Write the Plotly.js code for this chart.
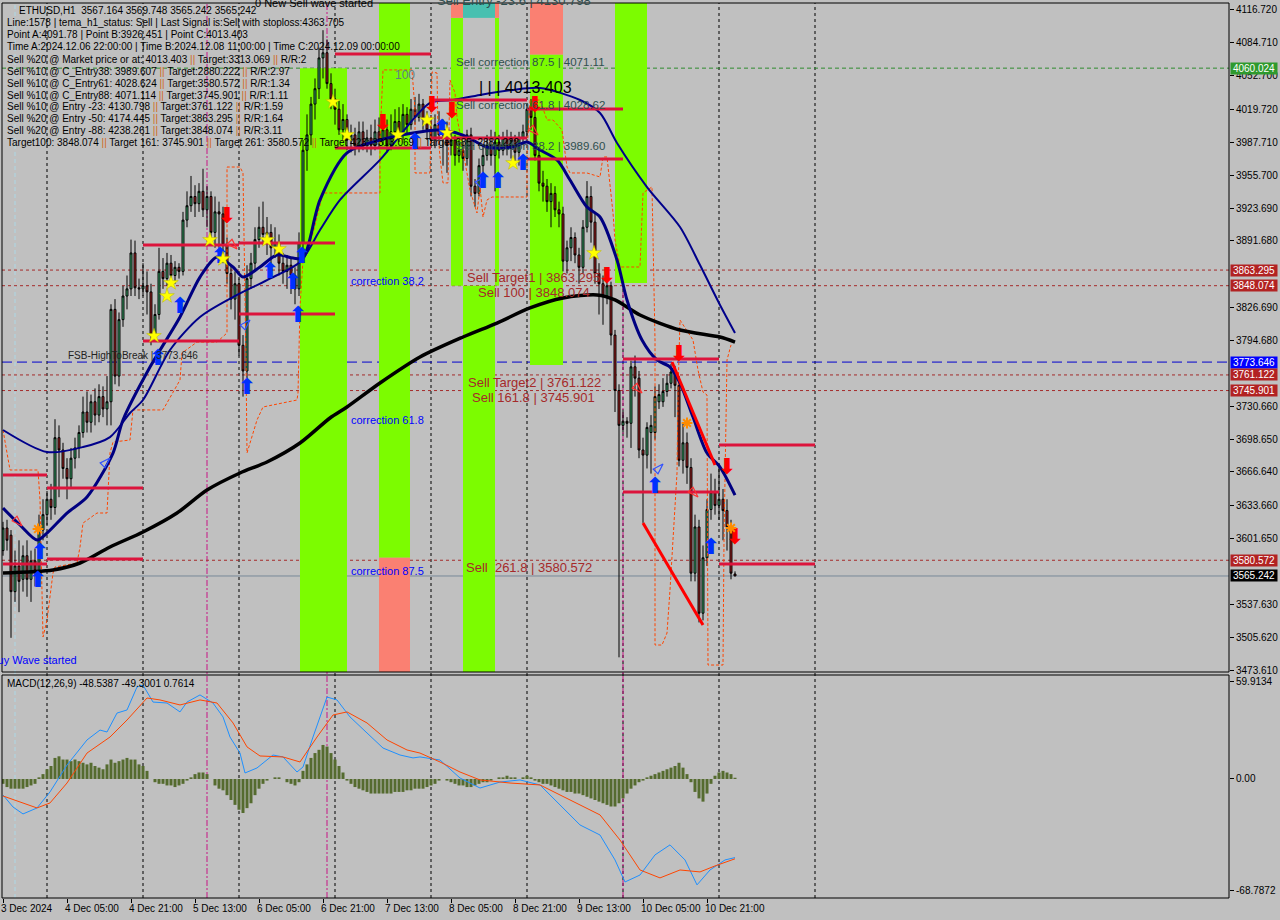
<!DOCTYPE html>
<html><head><meta charset="utf-8">
<script src="https://cdn.plot.ly/plotly-3.0.1.min.js"></script>
<style>html,body{margin:0;padding:0;background:#c0c0c0;overflow:hidden}#chart{width:1280px;height:920px}</style>
</head><body><div id="chart"></div>
<script>
// ---------------- DATA ----------------
const candleOpen = [3590,3612,3605,3550,3575,3562,3585,3562,3580,3570,
3610,3625,3640,3632,3700,3688,3670,3660,3680,3690,
3705,3725,3715,3735,3722,3740,3728,3735,3825,3760,
3815,3838,3845,3880,3846,3845,3848,3842,3800,3820,
3862,3855,3870,3858,3866,3862,3912,3926,3935,3928,
3940,3922,3935,3900,3920,3918,3888,3860,3835,3850,
3790,3765,3855,3870,3893,3905,3898,3900,3885,3890,
3870,3862,3868,3858,3845,3890,3980,3995,4025,4040,
4070,4075,4045,4030,4020,4000,4010,3990,3995,3985,
3998,3985,3992,3985,3998,3990,4000,3985,3998,4008,
3995,4015,4005,4020,4012,4025,4010,4000,3990,4005,
3995,4000,3985,3990,3975,3980,3972,3995,3945,3938,
3965,3975,3985,3975,3988,3980,3992,3982,3990,3978,
3992,3998,4020,4012,3975,3948,3945,3930,3938,3922,
3918,3872,3885,3895,3878,3866,3905,3935,3910,3860,
3850,3838,3848,3800,3746,3712,3716,3714,3769,3758,
3688,3683,3705,3705,3735,3735,3745,3753,3764,3751,
3678,3695,3671,3568,3613,3529,3583,3630,3647,3634,
3640,3629,3613,3567.164];
const candleHigh = [3618,3620,3610,3590,3600,3595,3600,3590,3592,3625,
3640,3648,3655,3718,3712,3695,3680,3690,3700,3712,
3740,3745,3742,3748,3752,3750,3760,3830,3835,3822,
3848,3858,3893,3892,3855,3870,3862,3850,3830,3885,
3875,3880,3878,3872,3870,3920,3940,3955,3946,3948,
3962,3945,3940,3935,3930,3925,3895,3868,3862,3855,
3800,3868,3880,3905,3925,3930,3915,3908,3905,3898,
3880,3878,3875,3866,3900,3990,4015,4032,4050,4080,
4097,4088,4055,4040,4028,4025,4015,4005,4002,4008,
4008,4000,4005,4010,4012,4008,4010,4015,4020,4022,
4025,4022,4030,4032,4035,4030,4018,4012,4015,4018,
4010,4008,3998,3995,3990,3988,4000,4002,3952,3972,
3985,3995,4000,3998,3995,3998,4000,3998,3995,3998,
4005,4025,4030,4018,3980,3960,3952,3948,3945,3930,
3925,3892,3905,3900,3885,3912,3950,3945,3920,3870,
3858,3855,3852,3805,3752,3725,3720,3775,3780,3765,
3700,3715,3722,3750,3752,3758,3762,3772,3770,3760,
3715,3705,3680,3625,3620,3595,3640,3665,3660,3672,
3650,3640,3620,3569.748];
const candleLow = [3585,3590,3505,3540,3530,3550,3545,3540,3555,3560,
3600,3615,3620,3625,3642,3660,3640,3652,3670,3680,
3700,3705,3705,3712,3715,3720,3712,3712,3752,3750,
3808,3825,3838,3838,3835,3838,3820,3790,3795,3815,
3845,3848,3850,3850,3855,3858,3905,3920,3915,3920,
3915,3905,3890,3885,3875,3870,3850,3825,3815,3780,
3740,3758,3845,3862,3885,3888,3878,3870,3875,3858,
3850,3845,3840,3830,3838,3885,3960,3985,4010,4030,
4050,4040,4020,4005,3995,3990,3980,3978,3975,3978,
3980,3978,3975,3980,3982,3985,3978,3980,3990,3988,
3990,3995,4000,4005,4008,4000,3990,3985,3982,3985,
3965,3958,3975,3965,3968,3960,3965,3935,3925,3935,
3955,3970,3965,3940,3972,3975,3975,3972,3965,3965,
3985,3992,4000,3970,3940,3930,3920,3905,3915,3905,
3862,3860,3872,3870,3850,3860,3900,3890,3850,3820,
3810,3830,3790,3725,3486,3705,3700,3690,3740,3680,
3617,3670,3665,3698,3728,3730,3740,3748,3720,3672,
3665,3655,3560,3560,3520,3522,3575,3620,3625,3620,
3600,3590,3562,3565.242];
const candleClose = [3612,3600,3550,3575,3560,3585,3562,3580,3570,3610,
3625,3640,3632,3700,3688,3670,3660,3680,3690,3705,
3725,3715,3735,3722,3740,3728,3735,3825,3760,3815,
3838,3845,3880,3846,3845,3848,3842,3800,3820,3862,
3855,3870,3858,3866,3862,3912,3926,3935,3928,3940,
3922,3935,3900,3920,3918,3888,3860,3835,3850,3790,
3765,3855,3870,3893,3905,3898,3900,3885,3890,3870,
3862,3868,3858,3845,3890,3980,3995,4025,4040,4070,
4075,4045,4030,4020,4000,4010,3990,3995,3985,3998,
3985,3992,3985,3998,3990,4000,3985,3998,4008,3995,
4015,4005,4020,4012,4025,4010,4000,3990,4005,3995,
4000,3985,3990,3975,3980,3972,3995,3945,3938,3965,
3975,3985,3975,3988,3980,3992,3982,3990,3978,3992,
3998,4020,4012,3975,3948,3945,3930,3938,3922,3918,
3872,3885,3895,3878,3866,3905,3935,3910,3860,3850,
3838,3848,3800,3746,3712,3716,3714,3769,3758,3688,
3683,3710,3712,3740,3742,3745,3753,3764,3751,3678,
3695,3671,3568,3613,3529,3583,3630,3647,3634,3640,
3629,3613,3568,3565.242];

// moving averages (bar index, price)
const fastMaIdx = [0,4.25,8.5,11,16,21,27.5,30,36.75,44.25,49.25,53.5,57.5,60,64.25,68.5,72.5,75,79.25,86,94.25,102.5,108.5,112.5,116,121,127.5,131,134.25,138.5,141.75,146,149.25,153.5,156,159.75,163.5,166.75,169.25,172.5,176,179.25,183];
const fastMaVal = [3631.4,3614.9,3600.3,3607.1,3626.6,3642.2,3685.0,3717.2,3768.8,3817.6,3856.5,3876.0,3866.3,3856.5,3866.3,3878.0,3875.0,3875.0,3931.6,3977.4,3990.0,3996.8,3999.8,3997.8,3993.0,3983.2,3983.2,3988.1,3980.3,3970.6,3951.1,3924.7,3915.0,3873.1,3834.1,3795.1,3775.7,3768.8,3753.2,3720.1,3685.0,3671.4,3644.1];
const slowMaIdx = [0,11,20,26.75,31.75,35,41.75,49.25,57.5,66,74.25,79.25,84.25,94.25,106.75,112.5,119.25,127.5,134.25,144.25,149.25,153.5,161,169.25,174.25,179.25,183];
const slowMaVal = [3707.5,3686.0,3690.9,3700.6,3724.0,3736.7,3785.4,3817.6,3837.0,3853.6,3871.2,3902.3,3931.6,3970.6,4026.1,4029.0,4033.9,4038.8,4040.7,4029.0,4016.3,3987.1,3944.2,3905.3,3868.2,3829.3,3802.0];
const longMaIdx = [0,12.5,19.25,26.75,35,43.5,51,59.25,66,74.25,81.75,86,94.25,104.25,115,123.5,131.75,140,148.5,153,159.25,169.25,179.25,183];
const longMaVal = [3568.2,3571.1,3577.9,3593.5,3608.1,3626.6,3649.0,3665.6,3676.3,3694.8,3719.2,3729.9,3753.3,3778.6,3798.1,3811.7,3826.4,3836.1,3839.0,3834.2,3819.5,3804.9,3798.1,3793.2];

// orange dashed envelope path
const envIdx = [0,1.75,8.75,9.25,10,11,12.5,13,18.5,19.25,20,23.5,26,26.75,27.5,31.75,32.5,40,44.25,44.75,48.5,53.5,56,56,59.25,60,60.75,61,63.5,65,73.5,73.75,74.25,75,77.5,80,94.25,94.25,95,102.25,103,103,106.75,107.25,108.5,108.75,109.25,110,111.25,111.75,113,113.5,116.75,118.5,119.25,120,121,122.25,131,131,131.75,134.25,136,137.5,139.75,141,141.75,146,149.25,150,151,152.5,153,154.25,159.25,160,162.25,163,163,164.75,166,166.75,168.5,168.75,169.25,172.5,173.75,175,176,176.25,180,180.25,181,182];
const envVal = [3707.5,3668.5,3668.5,3639.3,3505.8,3522.3,3568.1,3574.0,3577.9,3593.5,3616.8,3626.6,3626.6,3685.1,3695.8,3697.7,3727.0,3727.0,3756.2,3782.5,3793.2,3793.2,3802.0,3963.7,3963.7,3957.9,3775.7,3685.1,3717.2,3729.9,3736.7,3743.5,3827.3,3873.1,3899.4,3938.4,3938.4,3990.1,4058.3,4058.3,4019.3,3957.9,3957.9,4056.3,4055.3,3996.9,3973.5,3948.2,3948.2,4048.5,4035.9,4012.5,3941.3,3918.9,3944.3,3915.0,3931.6,3934.5,3934.5,3977.4,4029.0,4029.0,4009.5,4009.5,3999.8,3963.7,3957.9,3957.9,3954.0,3973.5,3973.5,3918.9,3892.6,3866.3,3866.3,3938.4,3944.3,3795.2,3498.0,3498.0,3509.7,3551.6,3665.6,3743.5,3814.6,3795.2,3765.9,3744.5,3741.6,3478.5,3478.5,3600.3,3775.7,3790.3];

// red horizontal target segments
const segStart = [0,11,0,11,35,35,59,59,83,83,107,107,131,131,155,155,179,179];
const segEnd   = [11,35,11,35,59,59,83,83,107,107,131,131,155,155,179,179,203,203];
const segLevel = [3663.6,3651.0,3576.9,3581.8,3887.7,3794.2,3889.6,3820.5,4073.8,3982.2,4029.0,3992.0,4020.2,3971.5,3776.7,3647.0,3692.8,3576.9];
// red trend lines
const trendX0 = [167.25,160], trendY0 = [3773.7,3616.8], trendX1 = [178,175], trendY1 = [3673.4,3517.5];

// signals
const sellArrowIdx = [56,95,107.25,112.25,133,151,169,181,183];
const sellArrowVal = [3915.0,4004.7,4022.2,4017.3,4022.2,3856.5,3780.5,3670.4,3602.2];
const buyArrowIdx = [8.75,9.25,38.75,44.25,54.25,61,66.75,72.5,73.75,74.75,103,109.75,120,123.75,130,163,177];
const buyArrowVal = [3559.4,3587.6,3775.7,3827.3,3875.1,3748.4,3861.4,3850.7,3817.6,3875.1,3987.1,3999.8,3949.1,3948.2,3965.7,3651.9,3592.5];
const starIdx = [37.75,41,42,51.75,55,66,69,82.5,86,98.75,106,111,127.5,147.75];
const starVal = [3799.1,3838.0,3850.7,3892.6,3874.1,3892.6,3883.8,4027.1,3994.9,3994.9,4009.5,3996.9,3967.6,3879.9];
const crossIdx = [8.75,171,182];
const crossVal = [3611.0,3714.3,3612.0];
const hollowSellIdx = [4.75,58.5,133.75,159.75,173.75];
const hollowSellVal = [3614.0,3883.8,3994.9,3743.5,3642.2];
const hollowBuyIdx = [26.75,61.75,120.5,165];
const hollowBuyVal = [3680.2,3814.6,3954.0,3674.3];

// MACD
const macdHist = [-3,-5,-6,-6,-6,-6,-5,-4,-3,1,3,6,8,13,14,12,12,11,12,11,10,9,10,8,7,6,9,12,10,11,12,13,12,12,9,8,5,0,
-2,-3,-3,-4,-4,-5,-4,-3,-1,
1,3,4,4,3,0,-4,-6,-7,-10,-13,-16,-19,-21,-18,-15,-10,-6,-3,-1,0,1,1,0,-2,-3,-4,-2,
5,9,13,16,18,21,20,16,12,8,4,
-1,-3,-5,-6,-7,-8,-9,-9,-9,-9,-9,-9,-8,-8,-8,-7,-7,-6,-6,-6,
-5,-4,-3,-1,0,-1,-2,
-3,-4,-4,-5,-5,-4,-3,-2,-2,-1,
0,1,1,2,1,1,0,1,2,1,
-1,-2,-3,-3,-4,-5,-6,-7,
-8,-8,-9,-9,-10,-11,-12,-13,-14,-15,-16,-17,
-17,-15,-12,-9,-6,-4,-2,-1,
1,2,3,4,5,6,7,8,10,7,
3,-2,-8,-12,-14,-9,-3,
2,4,5,4,3,0.7614];
const macdIdx = [0,2.5,5,8.5,11.75,16,21,24.25,26,28.5,31,33.5,35,37.5,41,44.25,46,49.25,52.5,55,56.75,59.25,60.5,63.5,67.5,70,73.5,75,77.5,81,83.5,86.75,91,95,99.25,102.5,104.25,109.25,114.25,119.25,124.25,129.25,134.25,139.25,144.25,149.25,153,155.5,159.25,163,166.75,170.5,173.5,176.75,180.5,183];
const macdVal = [-9.9,-17.3,-21.6,-17.9,-8.0,8.6,24.1,30.2,29.0,40.7,42.6,56.8,58.0,47.5,46.9,41.4,47.5,51.9,46.9,38.3,25.9,16.0,3.7,6.8,14.8,13.6,4.3,7.4,25.9,50.6,48.8,38.3,28.4,19.1,14.8,13.0,13.6,11.7,0.6,-5.6,-1.9,-0.6,-3.7,-16.0,-28.4,-34.6,-50.0,-63.6,-59.3,-46.9,-40.7,-50.0,-65.4,-56.2,-50.0,-48.5387];
const signalIdx = [0,4.25,8.5,11.75,16,21,26.75,31,36,39.25,44.25,49.25,53.5,57.5,61,64.25,70,74.25,78.5,82.5,86,91,96,101,104.25,109.25,114.25,119.25,126.75,134.25,141.75,149.25,154.25,159.25,164.25,169.25,174.25,178,183];
const signalVal = [-10.5,-14.2,-17.9,-14.8,-2.5,16.0,25.9,36.4,50.0,48.8,45.7,48.8,46.9,34.6,19.8,14.2,13.6,10.5,25.9,39.5,41.4,34.6,24.1,17.9,16.0,10.5,4.3,-0.6,-2.5,-3.7,-13.0,-22.2,-37.7,-56.2,-61.1,-56.2,-57.4,-53.7,-49.3001];

// axes / labels
const timeLabelIdx = [0,16,32,48,64,80,96,112,128,144,160,176];
const timeLabels = ["3 Dec 2024","4 Dec 05:00","4 Dec 21:00","5 Dec 13:00","6 Dec 05:00","6 Dec 21:00","7 Dec 13:00","8 Dec 05:00","8 Dec 21:00","9 Dec 13:00","10 Dec 05:00","10 Dec 21:00"];
const priceTicks = [4116.720,4084.710,4052.700,4019.720,3987.710,3955.700,3923.690,3891.680,3826.690,3794.680,3730.660,3698.650,3666.640,3633.660,3601.650,3537.630,3505.620,3473.610];
const macdTicks = [59.9134,0,-68.7872];
const macdTickText = ["59.9134","0.00","-68.7872"];
const levelValues = [4060.024,3863.295,3848.074,3773.646,3761.122,3745.901,3580.572,3565.242];
const levelKinds = ["entry","target","target","fsb","target","target","target","bid"];
const daySepIdx = [11,35,59,83,107,131,155,179,203];
const pinkSepIdx = [51,81,155];
const cyanSepIdx = [3];
// bands [startIdx, endIdx, low, high, kind]
const bandStart = [74.25,94,94,112,112,115,115,123,123,131.75,131.75,153];
const bandEnd   = [86,101.75,101.75,115,115,123,123,124,124,140,140,161];
const bandLow   = [3471.7,3583,3471.7,4109,3848,4109,3471.7,4109,3848,4073,3770.8,3850.7];
const bandHigh  = [4060.024,4123.6,3583,4123.6,4109,4123.6,3848,4123.6,4109,4123.6,4073,4123.6];
const bandKind  = ["g","g","s","s","g","t","g","s","g","s","g","g"];

const infoLines = [
 "ETHUSD,H1  3567.164 3569.748 3565.242 3565.242",
 "Line:1578 | tema_h1_status: Sell | Last Signal is:Sell with stoploss:4363.705",
 "Point A:4091.78 | Point B:3926.451 | Point C:4013.403",
 "Time A:2024.12.06 22:00:00 | Time B:2024.12.08 11:00:00 | Time C:2024.12.09 00:00:00",
 "Sell %20 @ Market price or at: 4013.403 || Target:3313.069 || R/R:2",
 "Sell %10 @ C_Entry38: 3989.607 || Target:2880.222 || R/R:2.97",
 "Sell %10 @ C_Entry61: 4028.624 || Target:3580.572 || R/R:1.34",
 "Sell %10 @ C_Entry88: 4071.114 || Target:3745.901 || R/R:1.11",
 "Sell %10 @ Entry -23: 4130.798 || Target:3761.122 || R/R:1.59",
 "Sell %20 @ Entry -50: 4174.445 || Target:3863.295 || R/R:1.64",
 "Sell %20 @ Entry -88: 4238.261 || Target:3848.074 || R/R:3.11",
 "Target100: 3848.074 || Target 161: 3745.901 || Target 261: 3580.572 || Target 423: 3313.069 || Target 685: 2880.222"
];
const macdLabel = "MACD(12,26,9) -48.5387 -49.3001 0.7614";

// ---------------- LAYOUT ----------------
const W=1280,H=920,ML=2,MR=51,MT=3,MB=22;
const PW=W-ML-MR, PH=H-MT-MB;
const px = x => (x-ML)/PW;
const py = y => (H-MB-y)/PH;
const FONT = "Liberation Sans, Arial, sans-serif";
const barIdx = candleOpen.map((_,i)=>i);

const traces = [];
traces.push({type:'candlestick', x:barIdx, open:candleOpen, high:candleHigh, low:candleLow, close:candleClose,
  increasing:{line:{color:'#000',width:1},fillcolor:'#3CB371'},
  decreasing:{line:{color:'#000',width:1},fillcolor:'#B22222'},
  whiskerwidth:0, hoverinfo:'skip', xaxis:'x', yaxis:'y', showlegend:false});
traces.push({type:'scatter',mode:'lines',x:envIdx,y:envVal,line:{color:'#FF4500',width:1,dash:'3px,2px'},hoverinfo:'skip',showlegend:false});
traces.push({type:'scatter',mode:'lines',x:longMaIdx,y:longMaVal,line:{color:'#000',width:3.5,shape:'spline',smoothing:0.8},hoverinfo:'skip',showlegend:false});
traces.push({type:'scatter',mode:'lines',x:slowMaIdx,y:slowMaVal,line:{color:'#00008B',width:2,shape:'spline',smoothing:0.8},hoverinfo:'skip',showlegend:false});
traces.push({type:'scatter',mode:'lines',x:fastMaIdx,y:fastMaVal,line:{color:'#000080',width:3,shape:'spline',smoothing:0.8},hoverinfo:'skip',showlegend:false});
const sx=[],sy=[];
segStart.forEach((s,k)=>{sx.push(s,segEnd[k],null);sy.push(segLevel[k],segLevel[k],null);});
traces.push({type:'scatter',mode:'lines',x:sx,y:sy,line:{color:'#DC143C',width:3},hoverinfo:'skip',showlegend:false});
const tx=[],ty=[];
trendX0.forEach((s,k)=>{tx.push(s,trendX1[k],null);ty.push(trendY0[k],trendY1[k],null);});
traces.push({type:'scatter',mode:'lines',x:tx,y:ty,line:{color:'#FF0000',width:3},hoverinfo:'skip',showlegend:false});
traces.push({type:'scatter',mode:'markers',x:hollowSellIdx,y:hollowSellVal,marker:{symbol:'arrow-open',angle:135,size:11,color:'#FF3030',line:{width:1.2,color:'#FF3030'}},hoverinfo:'skip',showlegend:false});
traces.push({type:'scatter',mode:'markers',x:hollowBuyIdx,y:hollowBuyVal,marker:{symbol:'arrow-open',angle:45,size:11,color:'#3050FF',line:{width:1.2,color:'#3050FF'}},hoverinfo:'skip',showlegend:false});
traces.push({type:'scatter',mode:'text',x:sellArrowIdx,y:sellArrowVal,text:sellArrowIdx.map(()=>'⬇'),textfont:{family:'DejaVu Sans',size:22,weight:'bold',color:'#FF0000'},hoverinfo:'skip',showlegend:false});
traces.push({type:'scatter',mode:'text',x:buyArrowIdx,y:buyArrowVal,text:buyArrowIdx.map(()=>'⬆'),textfont:{family:'DejaVu Sans',size:22,weight:'bold',color:'#0030FF'},hoverinfo:'skip',showlegend:false});
traces.push({type:'scatter',mode:'markers',x:starIdx,y:starVal,marker:{symbol:'star',size:11,color:'#FFFF00',line:{width:0.5,color:'#B8B800'}},hoverinfo:'skip',showlegend:false});
traces.push({type:'scatter',mode:'markers',x:crossIdx,y:crossVal,marker:{symbol:'asterisk',size:9,color:'#FF8C00',line:{width:2,color:'#FF8C00'}},hoverinfo:'skip',showlegend:false});
traces.push({type:'bar',x:barIdx,y:macdHist,marker:{color:'#556B2F'},xaxis:'x',yaxis:'y2',hoverinfo:'skip',showlegend:false});
traces.push({type:'scatter',mode:'lines',x:macdIdx,y:macdVal,line:{color:'#1E90FF',width:1},xaxis:'x',yaxis:'y2',hoverinfo:'skip',showlegend:false});
traces.push({type:'scatter',mode:'lines',x:signalIdx,y:signalVal,line:{color:'#FF4500',width:1},xaxis:'x',yaxis:'y2',hoverinfo:'skip',showlegend:false});

const shapes=[];
const bandColor={g:'#7CFC00',s:'#FA8072',t:'#48C0B0'};
bandStart.forEach((s,k)=>shapes.push({type:'rect',xref:'x',yref:'y',x0:s,x1:bandEnd[k],y0:bandLow[k],y1:bandHigh[k],fillcolor:bandColor[bandKind[k]],line:{width:0},layer:'below'}));
daySepIdx.forEach(i=>shapes.push({type:'line',xref:'x',yref:'paper',x0:i,x1:i,y0:0,y1:1,line:{color:'#000',width:1,dash:'3px,3px'},layer:'below'}));
pinkSepIdx.forEach(i=>shapes.push({type:'line',xref:'x',yref:'paper',x0:i,x1:i,y0:0,y1:1,line:{color:'#C71585',width:1,dash:'6px,2px,2px,2px'},layer:'below'}));
cyanSepIdx.forEach(i=>shapes.push({type:'line',xref:'x',yref:'paper',x0:i,x1:i,y0:0,y1:1,line:{color:'#ADD8E6',width:1,dash:'4px,3px'},layer:'below'}));
const levelStyle={entry:{color:'#2E8B2E',dash:'4px,3px'},target:{color:'#A52A2A',dash:'3px,3px'},fsb:{color:'#0000CD',dash:'10px,5px'},bid:{color:'#778899',dash:'solid'}};
levelValues.forEach((v,k)=>shapes.push({type:'line',xref:'paper',yref:'y',x0:0,x1:1,y0:v,y1:v,line:{color:levelStyle[levelKinds[k]].color,width:1,dash:levelStyle[levelKinds[k]].dash},layer:'below'}));
shapes.push({type:'rect',xref:'paper',yref:'paper',x0:0,x1:1,y0:py(672),y1:1,line:{color:'#000',width:1},fillcolor:'rgba(0,0,0,0)',layer:'above'});
shapes.push({type:'rect',xref:'paper',yref:'paper',x0:0,x1:1,y0:0,y1:py(675),line:{color:'#000',width:1},fillcolor:'rgba(0,0,0,0)',layer:'above'});

const ann=[];
function txt(x,y,t,size,color,anchor){ann.push({xref:'paper',yref:'paper',x:px(x),y:py(y),text:t,showarrow:false,xanchor:anchor||'left',yanchor:'middle',borderpad:0,font:{family:FONT,size:size,color:color}});}
infoLines.forEach((l,k)=>txt(k===0?18:6,11+12*k,l.replace(/\|\|/g,'<span style="color:#D2691E">||</span>'),10,'#000'));
txt(6,683,macdLabel,10,'#000');
txt(254,3,'0 New Sell wave started',11,'#000');
txt(436,1,'Sell Entry -23.6 | 4130.798',13,'#2F4F4F');
txt(455,62,'Sell correction 87.5 | 4071.11',11.5,'#2F4F4F');
txt(478,87,'| | | 4013.403',16,'#000');
txt(455,105,'Sell correction 61.8 | 4028.62',11.5,'#2F4F4F');
txt(455,146,'Sell correction 38.2 | 3989.60',11.5,'#2F4F4F');
txt(394,75,'100',12,'#5F8080');
txt(350,281,'correction 38.2',11,'#0000FF');
txt(350,420,'correction 61.8',11,'#0000FF');
txt(350,571,'correction 87.5',11,'#0000FF');
txt(466,277,'Sell Target1 | 3863.295',13,'#A52A2A');
txt(477,292,'Sell 100 | 3848.074',13,'#A52A2A');
txt(467,382,'Sell Target2 | 3761.122',13,'#A52A2A');
txt(471,397,'Sell 161.8 | 3745.901',13,'#A52A2A');
txt(465,567,'Sell  261.8 | 3580.572',13,'#A52A2A');
txt(67,355,'FSB-HighToBreak | 3773.646',10,'#222');
txt(78,660,'0 New Buy Wave started',11,'#0000FF','right');
timeLabelIdx.forEach((i,k)=>ann.push({xref:'x',yref:'paper',x:i,y:py(908),text:timeLabels[k],showarrow:false,xanchor:'left',yanchor:'middle',xshift:-3,borderpad:0,font:{family:FONT,size:10,color:'#000'}}));
const tagColor={entry:'#2E9A2E',target:'#B22222',fsb:'#0000FF',bid:'#000000'};
levelValues.forEach((v,k)=>ann.push({xref:'paper',yref:'y',x:1,y:v,xanchor:'left',yanchor:'middle',xshift:1,text:v.toFixed(3),showarrow:false,bgcolor:tagColor[levelKinds[k]],width:46,height:11,borderpad:0,font:{family:FONT,size:10,color:'#FFF'}}));

const layout={
  width:W,height:H,margin:{l:ML,r:MR,t:MT,b:MB},
  paper_bgcolor:'#C0C0C0',plot_bgcolor:'#C0C0C0',showlegend:false,bargap:0.25,
  xaxis:{domain:[0,1],anchor:'y2',range:[-0.25,306.5],showgrid:false,zeroline:false,rangeslider:{visible:false},
    tickvals:timeLabelIdx,ticks:'outside',ticklen:4,tickcolor:'#000',showticklabels:false,fixedrange:true},
  yaxis:{domain:[py(672),1],range:[3471.7,4123.5],side:'right',anchor:'x',showgrid:false,zeroline:false,
    tickvals:priceTicks,ticktext:priceTicks.map(v=>v.toFixed(3)),ticks:'outside',ticklen:4,tickcolor:'#000',
    tickfont:{family:FONT,size:10,color:'#000'},fixedrange:true},
  yaxis2:{domain:[0,py(675)],range:[-73.5,64.2],side:'right',anchor:'x',showgrid:false,zeroline:false,
    tickvals:macdTicks,ticktext:macdTickText,ticks:'outside',ticklen:4,tickcolor:'#000',
    tickfont:{family:FONT,size:10,color:'#000'},fixedrange:true},
  shapes:shapes,annotations:ann,hovermode:false
};
Plotly.newPlot('chart',traces,layout,{displayModeBar:false,staticPlot:true});
</script></body></html>
